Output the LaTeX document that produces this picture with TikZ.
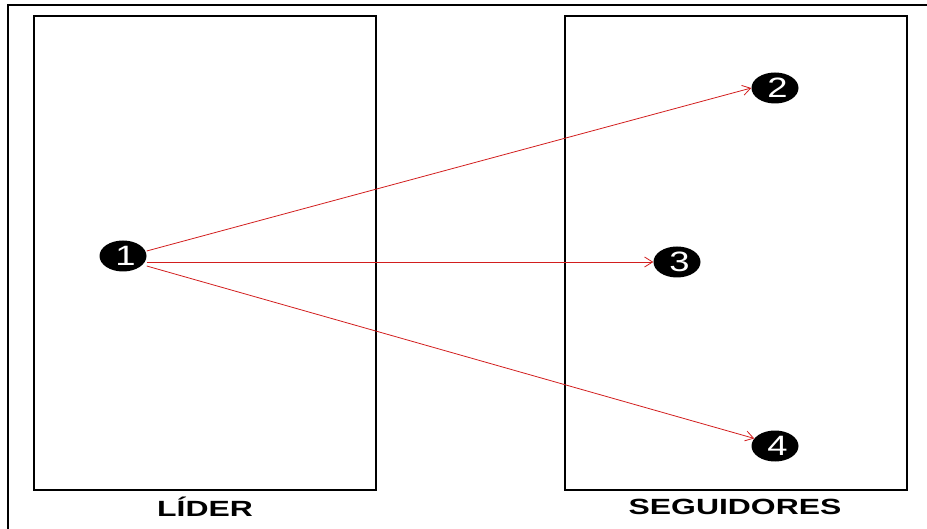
\documentclass[tikz,border=0pt]{standalone}
\usepackage{fontspec}
\setmainfont{Liberation Sans}
\usetikzlibrary{arrows.meta,shapes.geometric}
\definecolor{arrowred}{RGB}{210,30,30}
\begin{document}
\begin{tikzpicture}[x=1pt,y=-1pt,
  frame/.style={draw=black,line width=2pt},
  numnode/.style={ellipse,fill=black,minimum width=47pt,minimum height=31pt,inner sep=0pt,text=white,font=\fontsize{28}{28}\selectfont\addfontfeatures{FakeStretch=1.3}},
  link/.style={draw=arrowred,line width=0.8pt,-{Straight Barb[length=8pt,width=10pt]}},
  caption/.style={font=\fontsize{22}{22}\selectfont\bfseries}]
\useasboundingbox (0,0) rectangle (927,529);
\draw[line width=1.8pt] (8,529) -- (8,5) -- (927,5);
\node[frame,draw,minimum width=342pt,minimum height=474pt,inner sep=0pt] (lider) at (205,253) {};
\node[frame,draw,minimum width=342pt,minimum height=474pt,inner sep=0pt] (seg) at (736,253) {};
\node[numnode] (n1) at (123,256) {\hspace{5pt}1};
\node[numnode] (n2) at (775,88) {\hspace{5pt}2};
\node[numnode] (n3) at (677,262) {\hspace{5pt}3};
\node[numnode] (n4) at (775,446) {\hspace{5pt}4};
\draw[link] ([yshift=5pt]n1.east) -- (n2.west);
\draw[link] ([yshift=-6pt]n1.east) -- (n3.west);
\draw[link] ([yshift=-10pt]n1.east) -- (n4.160);
\node[caption] (l1) at (205,507) {\addfontfeatures{FakeStretch=1.45}LÍDER};
\node[caption] (l2) at (735,507) {\addfontfeatures{FakeStretch=1.45}SEGUIDORES};
\end{tikzpicture}
\end{document}
